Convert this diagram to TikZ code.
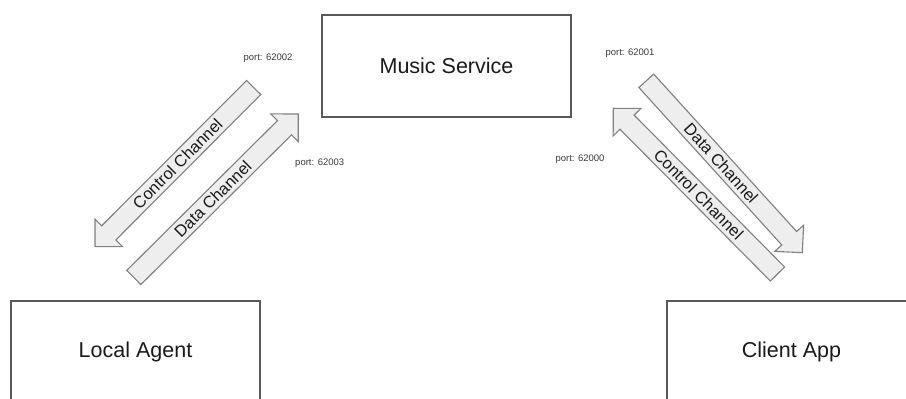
\documentclass[tikz,border=0pt]{standalone}
\usepackage{fontspec}
\setmainfont{Liberation Sans}
\usetikzlibrary{calc}

\definecolor{boxline}{HTML}{595959}
\definecolor{arrowline}{HTML}{808080}
\definecolor{arrowfill}{HTML}{EEEEEE}
\definecolor{labeltext}{HTML}{1A1A1A}
\definecolor{porttext}{HTML}{3A3A3A}

\tikzset{
  service/.style={draw=boxline, line width=1.3pt, fill=white,
    minimum width=249pt, minimum height=102pt, inner sep=0pt,
    text=labeltext, font=\fontsize{21.5}{26}\selectfont},
  chanbody/.style={draw=arrowline, line width=1.1pt, fill=arrowfill, line join=miter},
  chanlabel/.style={text=labeltext, inner sep=0pt, font=\fontsize{16.5}{20}\selectfont},
  portlabel/.style={text=porttext, inner sep=0pt, font=\fontsize{9.5}{11}\selectfont}
}

% Block arrow from #1 (tail centre) to #2 (tip)
\newcommand{\chanarrow}[2]{%
  \draw[chanbody]
    ($(#1)!10pt!90:(#2)$) --
    ($(#2)!19.5pt!(#1)!10pt!90:(#2)$) --
    ($(#2)!19.5pt!(#1)!19.5pt!90:(#2)$) --
    (#2) --
    ($(#2)!19.5pt!(#1)!19.5pt!-90:(#2)$) --
    ($(#2)!19.5pt!(#1)!10pt!-90:(#2)$) --
    ($(#1)!10pt!-90:(#2)$) -- cycle;
}

\begin{document}
\begin{tikzpicture}[x=1pt, y=1pt]
  \useasboundingbox (0,0) rectangle (906,399);
  \clip (0,0) rectangle (906,399);
  \fill[white] (0,0) rectangle (906,399);

  % services
  \node[service] (music) at (446.5,333) {Music Service};
  \node[service] (agent) at (135.5,47) {Local Agent};
  \node[service] (client) at (791.5,47) {Client App};

  % channel end points
  \coordinate (lc-tail) at (253.7,311.5);
  \coordinate (lc-tip)  at (95,152.3);
  \coordinate (ld-tail) at (133.8,121.5);
  \coordinate (ld-tip)  at (298.3,285);
  \coordinate (rd-tail) at (646.3,318.2);
  \coordinate (rd-tip)  at (802.3,146.3);
  \coordinate (rc-tail) at (777.5,125);
  \coordinate (rc-tip)  at (613.3,290.7);

  % channels
  \chanarrow{lc-tail}{lc-tip}
  \chanarrow{ld-tail}{ld-tip}
  \chanarrow{rd-tail}{rd-tip}
  \chanarrow{rc-tail}{rc-tip}

  % channel names
  \path (lc-tail) -- (lc-tip) node[chanlabel, pos=0.48, sloped] {Control Channel};
  \path (ld-tail) -- (ld-tip) node[chanlabel, pos=0.48, sloped] {Data Channel};
  \path (rd-tail) -- (rd-tip) node[chanlabel, pos=0.48, sloped] {Data Channel};
  \path (rc-tail) -- (rc-tip) node[chanlabel, pos=0.48, sloped] {Control Channel};

  % ports
  \node[portlabel] (p62002) at (268,340.7) {port: 62002};
  \node[portlabel] (p62003) at (319.7,235.7) {port: 62003};
  \node[portlabel] (p62001) at (630,346.3) {port: 62001};
  \node[portlabel] (p62000) at (580,239.5) {port: 62000};
\end{tikzpicture}
\end{document}
